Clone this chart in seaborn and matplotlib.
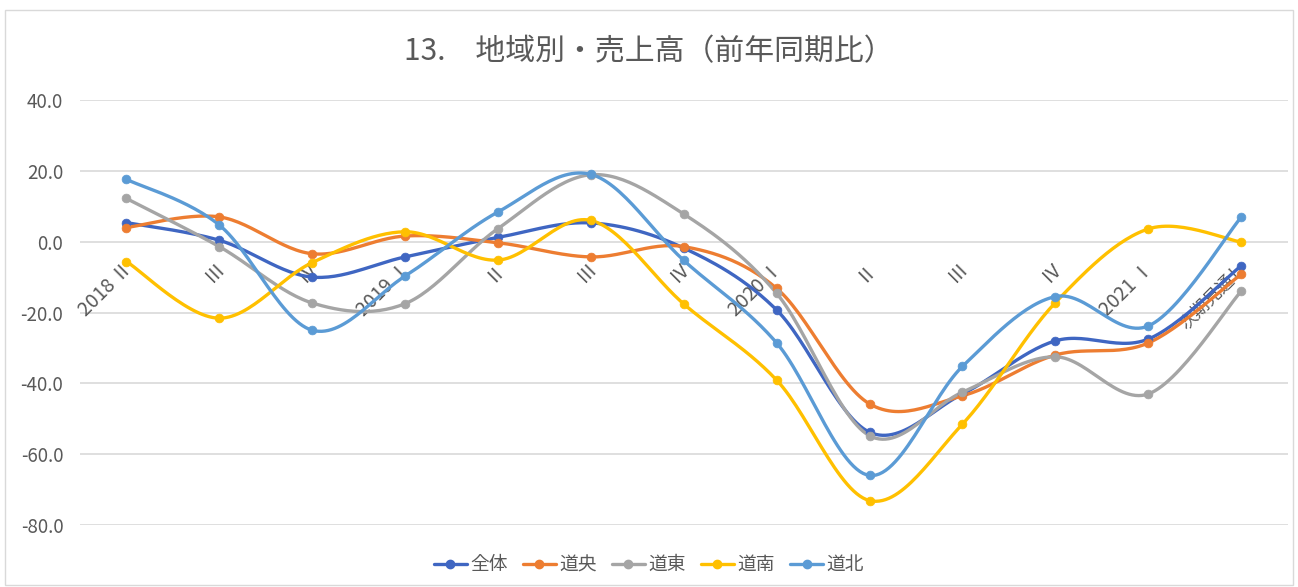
import numpy as np
import pandas as pd
import matplotlib
matplotlib.use('Agg')
import matplotlib.pyplot as plt
from matplotlib.lines import Line2D
from matplotlib.patches import Rectangle
import seaborn as sns

# quarters (x categories)
quarters = ['2018 Ⅱ', 'Ⅲ', 'Ⅳ', '2019 Ⅰ', 'Ⅱ', 'Ⅲ', 'Ⅳ',
            '2020 Ⅰ', 'Ⅱ', 'Ⅲ', 'Ⅳ', '2021 Ⅰ', '次期見通し']

# year-over-year sales (%) by region
zentai  = [5.4, 0.4, -10.0, -4.3, 1.2, 5.3, -1.8, -19.3, -53.8, -43.0, -28.0, -27.5, -6.8]
douou   = [4.0, 7.0, -3.4, 1.6, -0.3, -4.3, -1.4, -13.2, -45.8, -43.5, -32.0, -28.6, -9.2]
doutou  = [12.2, -1.4, -17.3, -17.5, 3.7, 18.9, 7.8, -14.6, -54.8, -42.5, -32.5, -43.0, -14.0]
dounan  = [-5.6, -21.6, -5.9, 2.8, -5.2, 6.0, -17.6, -39.1, -73.1, -51.5, -17.2, 3.6, -0.1]
douhoku = [17.6, 4.7, -25.0, -9.7, 8.4, 19.0, -5.3, -28.6, -66.0, -35.2, -15.5, -23.8, 6.9]

series_names = ['全体', '道央', '道東', '道南', '道北']
series_vals = [zentai, douou, doutou, dounan, douhoku]
colors = ['#3F66C2', '#ED7D31', '#A5A5A5', '#FFC000', '#5B9BD5']

title = '13.　地域別・売上高（前年同期比）'


def smooth(y, n=30):
    # Excel-style smoothed line (Catmull-Rom bezier), only used for drawing
    x = np.arange(len(y), dtype=float)
    y = np.asarray(y, dtype=float)
    xs, ys = [], []
    for i in range(len(y) - 1):
        p0 = np.array([x[max(i - 1, 0)], y[max(i - 1, 0)]])
        p1 = np.array([x[i], y[i]])
        p2 = np.array([x[i + 1], y[i + 1]])
        p3 = np.array([x[min(i + 2, len(y) - 1)], y[min(i + 2, len(y) - 1)]])
        c1 = p1 + (p2 - p0) / 6.0
        c2 = p2 - (p3 - p1) / 6.0
        t = np.linspace(0, 1, n)[:, None]
        pts = ((1 - t) ** 3) * p1 + 3 * ((1 - t) ** 2) * t * c1 + 3 * (1 - t) * t ** 2 * c2 + t ** 3 * p2
        xs.extend(pts[:, 0])
        ys.extend(pts[:, 1])
    return np.array(xs), np.array(ys)


sns.set_theme(style='white')
plt.rcParams['font.family'] = ['Noto Sans CJK JP', 'DejaVu Sans']

fig = plt.figure(figsize=(12.98, 5.87), dpi=100)
ax = fig.add_axes([0.0616, 0.1056, 0.9304, 0.724])

txt_col = '#595959'
for name, vals, col in zip(series_names, series_vals, colors):
    sx, sy = smooth(vals)
    curve = pd.DataFrame({'x': sx, 'y': sy})
    sns.lineplot(data=curve, x='x', y='y', sort=False, color=col, lw=2.4, ax=ax)
    pts = pd.DataFrame({'x': np.arange(len(vals)), 'y': vals})
    sns.scatterplot(data=pts, x='x', y='y', color=col, s=40, edgecolor=col, ax=ax, zorder=3)

ax.set_ylim(-80, 40)
ax.set_xlim(-0.5, len(quarters) - 0.5)
ax.set_yticks(np.arange(-80, 41, 20))
ax.set_yticklabels(['%.1f' % v for v in np.arange(-80, 41, 20)], color=txt_col, fontsize=13.5)
ax.tick_params(axis='y', pad=12, length=0)
ax.set_xticks([])
ax.set_xlabel('')
ax.set_ylabel('')
ax.grid(axis='y', color='#D9D9D9', lw=1.2)
ax.set_axisbelow(True)
for s in ax.spines.values():
    s.set_visible(False)

# category labels sit on the zero line, rotated like Excel does
for i, q in enumerate(quarters):
    fs = 12.5 if i == len(quarters) - 1 else 14
    ax.annotate(q, xy=(i, 0), xytext=(2, -17), textcoords='offset points',
                rotation=45, ha='right', va='center', rotation_mode='anchor',
                fontsize=fs, color=txt_col, zorder=1)

fig.text(0.5, 0.912, title, ha='center', va='center', fontsize=21.5, color=txt_col)

handles = [Line2D([0], [0], color=c, lw=2.4, marker='o', markersize=6) for c in colors]
fig.legend(handles, series_names, loc='center', bbox_to_anchor=(0.5, 0.038), ncol=5,
           frameon=False, fontsize=13.5, labelcolor=txt_col, handlelength=1.75,
           handletextpad=0.2, columnspacing=0.8)

fig.patches.append(Rectangle((0.004, 0.003), 0.992, 0.98, transform=fig.transFigure,
                             fill=False, edgecolor='#D9D9D9', lw=1))

fig.savefig('out.png', dpi=100)
